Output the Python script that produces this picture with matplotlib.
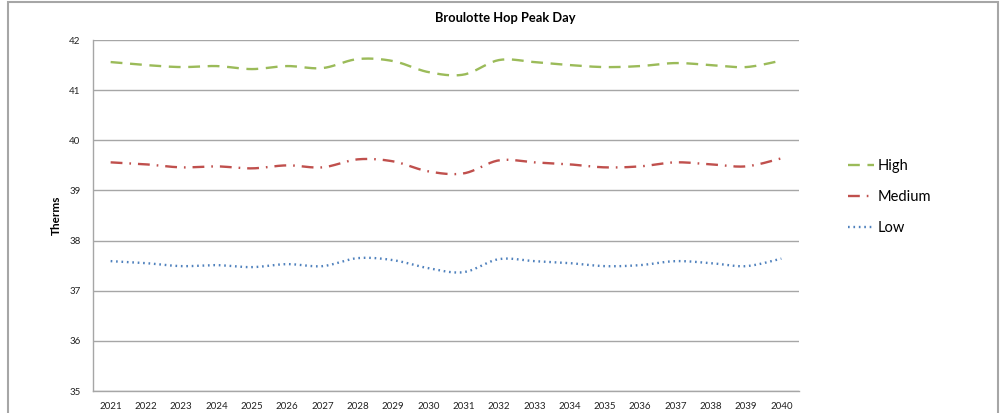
import numpy as np
import matplotlib
matplotlib.use("Agg")
import matplotlib.pyplot as plt
from matplotlib.patches import Rectangle

plt.rcParams['font.family'] = ['Lato', 'DejaVu Sans']
plt.rcParams['lines.scale_dashes'] = False

years = [str(y) for y in range(2021, 2041)]
high = [41.56, 41.50, 41.46, 41.48, 41.42, 41.48, 41.44, 41.62, 41.58, 41.36,
        41.31, 41.60, 41.56, 41.50, 41.46, 41.48, 41.54, 41.50, 41.46, 41.59]
medium = [39.56, 39.52, 39.46, 39.48, 39.44, 39.50, 39.46, 39.62, 39.58, 39.38,
          39.34, 39.60, 39.56, 39.52, 39.46, 39.48, 39.56, 39.52, 39.48, 39.64]
low = [37.59, 37.55, 37.49, 37.51, 37.47, 37.53, 37.49, 37.65, 37.61, 37.45,
       37.37, 37.63, 37.59, 37.55, 37.49, 37.51, 37.59, 37.55, 37.49, 37.64]
series_names = ["High", "Medium", "Low"]
y_ticks = [35, 36, 37, 38, 39, 40, 41, 42]


def smooth(xs, ys, n=20):
    xs = np.asarray(xs, float)
    ys = np.asarray(ys, float)
    px = np.concatenate([[xs[0]], xs, [xs[-1]]])
    py = np.concatenate([[ys[0]], ys, [ys[-1]]])
    ox, oy = [], []
    t = np.linspace(0, 1, n, endpoint=False)
    for i in range(1, len(px) - 2):
        p0x, p0y = px[i], py[i]
        p3x, p3y = px[i + 1], py[i + 1]
        c1x = p0x + (px[i + 1] - px[i - 1]) / 6
        c1y = p0y + (py[i + 1] - py[i - 1]) / 6
        c2x = p3x - (px[i + 2] - px[i]) / 6
        c2y = p3y - (py[i + 2] - py[i]) / 6
        b = [(1 - t) ** 3, 3 * (1 - t) ** 2 * t, 3 * (1 - t) * t ** 2, t ** 3]
        ox.extend(b[0] * p0x + b[1] * c1x + b[2] * c2x + b[3] * p3x)
        oy.extend(b[0] * p0y + b[1] * c1y + b[2] * c2y + b[3] * p3y)
    ox.append(xs[-1])
    oy.append(ys[-1])
    return np.array(ox), np.array(oy)


W, H = 1003, 413
fig = plt.figure(figsize=(W / 100, H / 100), dpi=100)
ax = fig.add_axes([93 / W, 1 - 391 / H, (799 - 93) / W, (391 - 40) / H])

x = np.arange(len(years))
styles = [
    dict(color="#9BBB59", linestyle=(0, (8.5, 5.5))),
    dict(color="#C0504D", linestyle=(0, (8.5, 5.0, 1.2, 5.0))),
    dict(color="#4F81BD", linestyle=(0, (1.2, 2.7))),
]
for name, vals, st in zip(series_names, [high, medium, low], styles):
    sx, sy = smooth(x, vals)
    ax.plot(sx, sy, lw=1.7, label=name, solid_capstyle='butt',
            dash_capstyle='butt', **st)

ax.set_xlim(-0.5, len(years) - 0.5)
ax.set_ylim(35, 42)
ax.set_yticks(y_ticks)
ax.set_yticklabels([str(v) for v in y_ticks], fontsize=7, color="#222222")
ax.set_xticks(x)
ax.set_xticklabels(years, fontsize=7, color="#222222")
ax.tick_params(axis='both', length=0)
ax.tick_params(axis='y', pad=9)
ax.tick_params(axis='x', pad=8)
ax.grid(axis='y', color="#A6A6A6", lw=1)
ax.set_axisbelow(True)
for s in ['top', 'right']:
    ax.spines[s].set_visible(False)
for s in ['left', 'bottom']:
    ax.spines[s].set_color("#A6A6A6")
    ax.spines[s].set_linewidth(1)
ax.set_ylabel("Therms", fontsize=8.5, fontweight='bold', labelpad=5)

fig.text(505 / W, 1 - 18 / H, "Broulotte Hop Peak Day", ha='center', va='center',
         fontsize=9.3, fontweight='bold')

leg = fig.legend(loc='center left', bbox_to_anchor=(835 / W, 1 - 197 / H),
                 frameon=False, fontsize=10.5, handlelength=1.75,
                 labelspacing=1.15, handletextpad=0.3)

fig.patches.append(Rectangle((8.5 / W, -0.1), (998 - 8.5) / W, 1 - 2.5 / H + 0.1,
                             transform=fig.transFigure, fill=False,
                             edgecolor="#A6A6A6", lw=1.5))

fig.savefig("out.png", dpi=100)
